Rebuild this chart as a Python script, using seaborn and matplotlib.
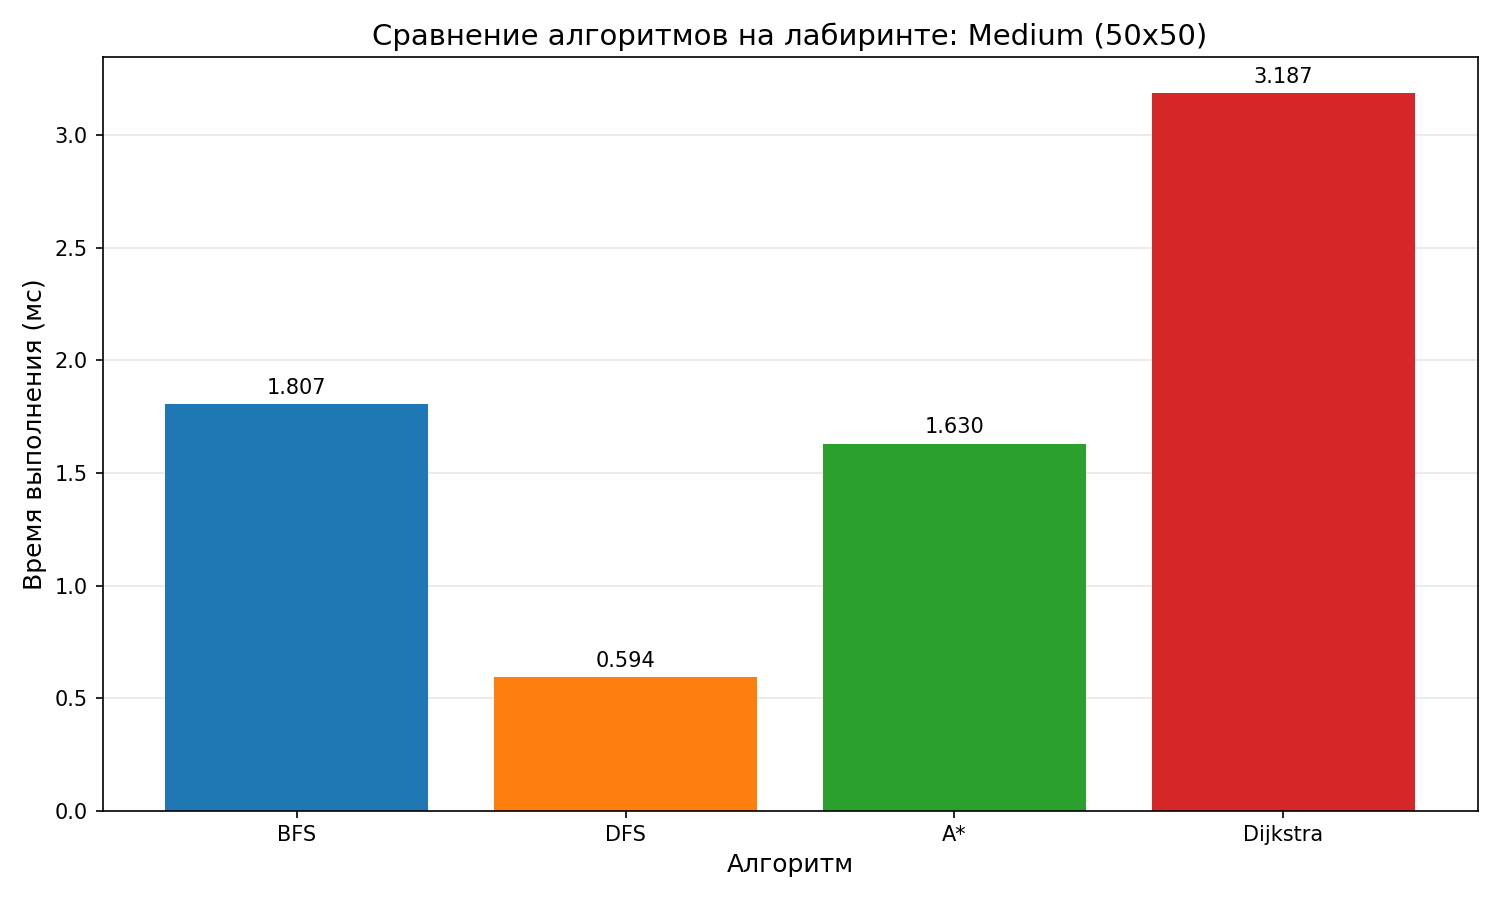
import matplotlib
matplotlib.use("Agg")
import matplotlib.pyplot as plt
import seaborn as sns
import pandas as pd

algorithms = ["BFS", "DFS", "A*", "Dijkstra"]
times_ms = [1.807, 0.594, 1.630, 3.187]
colors = ["#1f77b4", "#ff7f0e", "#2ca02c", "#d62728"]
title = "Сравнение алгоритмов на лабиринте: Medium (50x50)"

plt.rcdefaults()
plt.rcParams['font.family'] = ['DejaVu Sans']

df = pd.DataFrame({"Алгоритм": algorithms, "Время": times_ms})

fig, ax = plt.subplots(figsize=(10, 6), dpi=150)
sns.barplot(data=df, x="Алгоритм", y="Время", hue="Алгоритм", palette=colors,
            legend=False, ax=ax, width=0.8, saturation=1)
ax.set_xlim(-0.59, 3.59)
for container in ax.containers:
    ax.bar_label(container, fmt="%.3f", padding=3, fontsize=10)
ax.set_title(title, fontsize=14)
ax.set_xlabel("Алгоритм", fontsize=12)
ax.set_ylabel("Время выполнения (мс)", fontsize=12)
ax.yaxis.grid(True, alpha=0.3)
ax.set_axisbelow(True)
fig.tight_layout()
fig.savefig("out.png", dpi=150)
